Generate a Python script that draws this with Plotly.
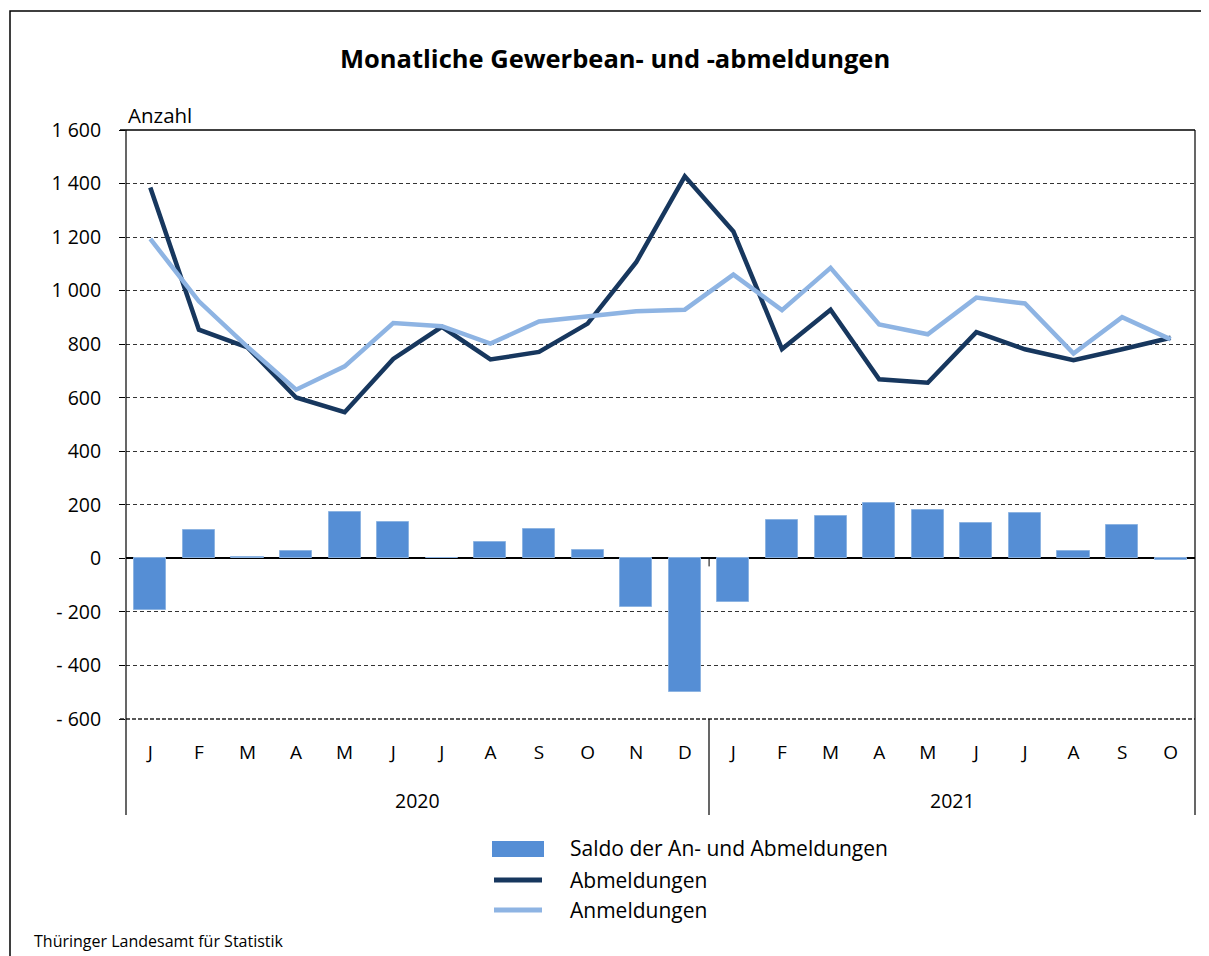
import plotly.graph_objects as go

months = ["J","F","M","A","M","J","J","A","S","O","N","D",
          "J","F","M","A","M","J","J","A","S","O"]
years = ["2020", "2021"]
abmeldungen = [1385, 854, 788, 601, 546, 745, 865, 743, 771, 877, 1106, 1427,
               1221, 782, 929, 669, 656, 845, 781, 740, 781, 824]
anmeldungen = [1193, 960, 790, 630, 717, 879, 867, 802, 885, 904, 923, 929,
               1060, 927, 1085, 874, 837, 974, 952, 765, 901, 818]
saldo = [-194, 105, 5, 29, 173, 135, 2, 60, 111, 30, -181, -500,
         -163, 143, 157, 206, 179, 132, 169, 26, 123, -5]
ytick_vals = [-600, -400, -200, 0, 200, 400, 600, 800, 1000, 1200, 1400, 1600]
ytick_text = ["- 600", "- 400", "- 200", "0", "200", "400", "600", "800",
              "1 000", "1 200", "1 400", "1 600"]
legend_names = ["Saldo der An- und Abmeldungen", "Abmeldungen", "Anmeldungen"]

FONT = "Open Sans"
C_BAR = "#558ED5"
C_AB = "#17375E"
C_AN = "#8EB4E3"

OFF = 8  # page body margin
W, H = 1209 - OFF, 956 - OFF
L, R, T, B = 126, 1195, 130, 719  # screen coordinates of the plot area

def px(x):
    return (x - L) / (R - L)

def py(y):
    return (B - y) / (B - T)

xs = list(range(len(months)))

fig = go.Figure()
fig.add_trace(go.Bar(x=xs, y=saldo, width=0.66, marker=dict(color=C_BAR, line=dict(color="#8DB4E2", width=1)),
                     name=legend_names[0], showlegend=False))
fig.add_trace(go.Scatter(x=xs, y=abmeldungen, mode="lines", line=dict(color=C_AB, width=4.5),
                         name=legend_names[1], showlegend=False))
fig.add_trace(go.Scatter(x=xs, y=anmeldungen, mode="lines", line=dict(color=C_AN, width=4.5),
                         name=legend_names[2], showlegend=False))

shapes = []
# outer frame
shapes.append(dict(type="rect", xref="paper", yref="paper", x0=px(10), x1=px(1207), y0=py(962), y1=py(11),
                   line=dict(color="black", width=1.5), fillcolor="rgba(0,0,0,0)", layer="below"))
# top border of plot area
shapes.append(dict(type="line", xref="paper", yref="paper", x0=px(120), x1=px(1195), y0=1, y1=1,
                   line=dict(color="black", width=1.5)))
# bottom dashed line
shapes.append(dict(type="line", xref="paper", yref="paper", x0=px(120), x1=1, y0=0, y1=0,
                   line=dict(color="#222222", width=1.5, dash="4px,2px")))
# vertical lines
for xv, y0 in [(126, 130), (709, 719), (1195, 130)]:
    shapes.append(dict(type="line", xref="paper", yref="paper", x0=px(xv), x1=px(xv), y0=py(815), y1=py(y0),
                       line=dict(color="black", width=1.2)))
# small tick below zero at year boundary
shapes.append(dict(type="line", xref="x", yref="y", x0=11.5, x1=11.5, y0=0, y1=-30,
                   line=dict(color="black", width=1)))
# legend swatches
shapes.append(dict(type="rect", xref="paper", yref="paper", x0=px(492), x1=px(544), y0=py(857), y1=py(841),
                   line=dict(width=0), fillcolor=C_BAR))
shapes.append(dict(type="line", xref="paper", yref="paper", x0=px(494), x1=px(542), y0=py(880), y1=py(880),
                   line=dict(color=C_AB, width=5)))
shapes.append(dict(type="line", xref="paper", yref="paper", x0=px(494), x1=px(542), y0=py(910), y1=py(910),
                   line=dict(color=C_AN, width=5)))

annotations = [
    dict(text="<b>Monatliche Gewerbean- und -abmeldungen</b>", xref="paper", yref="paper",
         x=px(615), y=py(58), xanchor="center", yanchor="middle", showarrow=False,
         font=dict(family=FONT, size=25.5, color="black")),
    dict(text="Anzahl", xref="paper", yref="paper", x=px(126), y=py(115), xanchor="left", yanchor="middle",
         showarrow=False, font=dict(family=FONT, size=20.5, color="black")),
    dict(text=years[0], xref="x", yref="paper", x=5.5, y=py(800), xanchor="center", yanchor="middle",
         showarrow=False, font=dict(family=FONT, size=19.5, color="black")),
    dict(text=years[1], xref="x", yref="paper", x=16.5, y=py(800), xanchor="center", yanchor="middle",
         showarrow=False, font=dict(family=FONT, size=19.5, color="black")),
    dict(text="Thüringer Landesamt für Statistik", xref="paper", yref="paper", x=px(32), y=py(941),
         xanchor="left", yanchor="middle", showarrow=False, font=dict(family=FONT, size=16, color="black")),
]
for name, yy in zip(legend_names, [848, 880, 910]):
    annotations.append(dict(text=name, xref="paper", yref="paper", x=px(568), y=py(yy), xanchor="left",
                            yanchor="middle", showarrow=False, font=dict(family=FONT, size=21, color="black")))

fig.update_layout(
    width=W, height=H,
    margin=dict(l=L - OFF, r=W - (R - OFF), t=T - OFF, b=H - (B - OFF), pad=0),
    plot_bgcolor="white", paper_bgcolor="white",
    showlegend=False,
    bargap=0,
    shapes=shapes,
    annotations=annotations,
    font=dict(family=FONT, size=19, color="black"),
    xaxis=dict(range=[-0.5, len(months) - 0.5], tickvals=xs, ticktext=months, showgrid=False,
               zeroline=False, showline=False, ticks="", ticklabelstandoff=20,
               tickfont=dict(family=FONT, size=19, color="black")),
    yaxis=dict(range=[-600, 1600], tickvals=ytick_vals, ticktext=ytick_text, showgrid=True,
               gridcolor="#333333", griddash="4px,3px", gridwidth=1,
               zeroline=True, zerolinecolor="black", zerolinewidth=1.5,
               showline=False, ticks="outside", ticklen=6, tickcolor="black",
               ticklabelstandoff=14, tickfont=dict(family=FONT, size=19.5, color="black")),
)

fig.write_html("out.html")
